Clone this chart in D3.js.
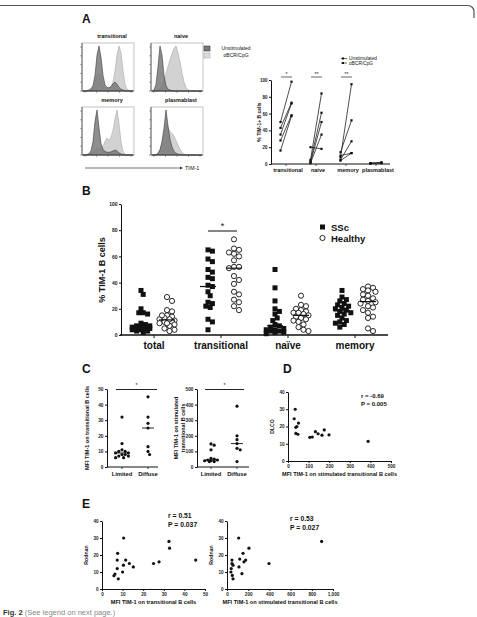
<!DOCTYPE html>
<html>
<head>
<meta charset="utf-8">
<script src="https://cdn.jsdelivr.net/npm/d3@7"></script>
<style>
  body { margin: 0; background: #fff; }
  svg { display: block; font-family: "Liberation Sans", Arial, sans-serif; }
</style>
</head>
<body>
<svg id="fig" width="477" height="617"></svg>
<script>
// ---- data ----
// A: TIM-1 histograms (26 bins along the log axis, % of peak)
const histCats = ["transitional", "naive", "memory", "plasmablast"];
const histUnstim = [
  [0,0,1,2,5,12,35,80,100,75,35,14,8,7,10,16,20,15,8,4,2,1,0,0,0,0],
  [0,2,15,55,100,80,35,12,4,2,1,0,0,0,0,0,0,0,0,0,0,0,0,0,0,0],
  [0,0,1,3,10,30,75,100,60,25,12,8,6,6,7,9,11,9,5,2,1,0,0,0,0,0],
  [0,0,1,4,12,30,60,100,65,35,18,8,4,2,1,0,0,0,0,0,0,0,0,0,0,0]
];
const histStim = [
  [0,0,0,1,3,8,18,35,40,30,14,7,5,6,10,20,45,80,100,85,45,15,4,1,0,0],
  [0,0,0,2,6,12,22,38,55,70,82,95,100,85,65,40,20,8,3,1,0,0,0,0,0,0],
  [0,0,0,1,3,6,12,16,14,14,20,30,38,32,40,55,80,100,70,30,8,2,0,0,0,0],
  [0,0,1,3,10,25,45,70,60,52,48,42,32,22,12,6,2,1,0,0,0,0,0,0,0,0]
];

// A right: % TIM-1+ B cells, unstimulated -> aBCR/CpG
const pairCats = ["transitional", "naive", "memory", "plasmablast"];
const pairUnstim = [[50,43,35,28,16],[20,5,3,2,1],[14,10,8,5,4],[1,1,0.5]];
const pairStim = [[98,73,72,58,57],[18,84,61,50,35],[52,13,95,27,13],[2,1.5,1]];
const pairSig = ["*", "**", "**", ""];

// B: % TIM-1 B cells
const tim1Cats = ["total", "transitional", "naïve", "memory"];
const tim1SSc = [
  [34,31,20,17,16,17,9,8,7,7,6,6,5,5,5,4,4,3,3,2],
  [65,64,58,56,50,48,44,43,38,37,33,30,25,24,22,21,12,10,4],
  [50,36,26,20,18,16,13,11,8,7,6,5,4,4,3,3,2,2,1],
  [34,29,27,26,24,23,22,21,20,19,18,17,16,15,13,11,10,9,8,6]
];
const tim1Healthy = [
  [29,26,19,18,15,14,13,12,11,10,10,9,8,7,5,4,3,12,9,15],
  [73,66,65,63,62,60,57,52,52,51,45,42,39,33,31,27,25,22,19],
  [30,23,22,20,19,18,17,16,15,14,13,12,11,10,8,6,4,3,17],
  [37,36,35,34,33,31,30,28,27,26,25,24,22,21,19,17,14,13,5,3]
];

// C: MFI TIM-1, limited vs diffuse
const mfiGroups = ["Limited", "Diffuse"];
const mfiTrans = [[32,15,11,10,10,9,9,8,8,7,7,6,6],[45,32,28,25,13,10,8]];
const mfiStim = [[148,140,110,55,50,45,45,40,40,35,35],[390,200,175,150,120,110,35]];

// D: DLCO vs MFI on stimulated transitional B cells
const dlcoMfi = [35,30,51,43,38,38,48,106,118,133,146,165,176,199,389];
const dlcoVal = [30,24.5,22,20,19.5,16,15.5,13.7,13.9,17,15.8,15,18,15.2,11.4];

// E: Rodnan vs MFI
const rodMfi = [10.5,7.6,7.4,7.4,6.3,5.8,7.9,10,10.4,11.5,13.3,15.2,25,27.7,32.5,32.8,45.5];
const rodVal = [30,21,17,12,8.8,7.8,6,10,14,17,15,13,15,16,28,24,17];
const rodStimMfi = [110,207,151,120,176,160,113,141,47,47,57,40,37,50,57,396,893];
const rodStimVal = [30,24,21,17.6,17,16,13,9,17,15,14,12,10,8,6,15,28];

const svg = d3.select("#fig");
const FONT = '"Liberation Sans", Arial, sans-serif';

svg.append("rect").attr("width", 477).attr("height", 617).attr("fill", "#fff");

// page frame at the top
svg.append("path")
  .attr("d", "M0,5.5 H468 A6,6 0 0 1 474,11.5 V18")
  .attr("fill", "none").attr("stroke", "#555").attr("stroke-width", 1.2);

function label(x, y, txt, size, opts) {
  opts = opts || {};
  return svg.append("text")
    .attr("x", x).attr("y", y)
    .attr("font-size", size)
    .attr("font-weight", opts.weight || "bold")
    .attr("font-family", FONT)
    .attr("fill", opts.fill || "#111")
    .attr("text-anchor", opts.anchor || "start")
    .attr("transform", opts.rotate ? "rotate(-90," + x + "," + y + ")" : null)
    .text(txt);
}

function styleAxis(g, size) {
  g.attr("font-family", FONT);
  g.selectAll("path.domain").attr("stroke", "#111").attr("stroke-width", 1);
  g.selectAll(".tick line").attr("stroke", "#111");
  g.selectAll(".tick text")
    .attr("font-size", size)
    .attr("font-weight", "bold")
    .attr("fill", "#222");
}

function leftAxis(x, scale, ticks, size) {
  var g = svg.append("g").attr("transform", "translate(" + x + ",0)")
    .call(d3.axisLeft(scale).tickValues(ticks).tickSize(2).tickSizeOuter(0).tickPadding(1.5));
  styleAxis(g, size);
  return g;
}

function bottomAxis(y, scale, ticks, size) {
  var g = svg.append("g").attr("transform", "translate(0," + y + ")")
    .call(d3.axisBottom(scale).tickValues(ticks).tickSize(2).tickSizeOuter(0).tickPadding(1.5));
  styleAxis(g, size);
  return g;
}

// spread points sideways so that close values do not pile up completely;
// offsets are capped, so dense groups overlap like in the original
function dodge(values, y, d, maxOff) {
  var placed = [];
  var order = values.map(function (v, i) { return i; })
    .sort(function (a, b) { return values[b] - values[a]; });
  var out = new Array(values.length);
  var steps = [0];
  for (var k = 1; k * d / 2 <= maxOff; k++) steps.push(k * d / 2, -k * d / 2);
  order.forEach(function (i) {
    var py = y(values[i]);
    var best = 0, bestDist = -1;
    steps.forEach(function (o) {
      var dist = d3.min(placed, function (p) { return Math.hypot(p[0] - o, p[1] - py); });
      if (dist === undefined) dist = Infinity;
      if (bestDist < d && dist > bestDist) { best = o; bestDist = dist; }
    });
    placed.push([best, py]);
    out[i] = { v: values[i], dx: best };
  });
  return out;
}

// ---------------- Panel A ----------------
label(82, 23, "A", 12);

function drawHistograms() {
  var w = 52, h = 48;
  histCats.forEach(function (c, i) {
    var bx = 82 + (i % 2) * 69;
    var by = 43 + Math.floor(i / 2) * 64;
    var x = d3.scaleLinear().domain([0, histStim[i].length - 1]).range([bx + 1, bx + w - 1]);
    var y = d3.scaleLinear().domain([0, 100]).range([by + h, by + 3]);
    var area = d3.area()
      .x(function (d, j) { return x(j); })
      .y0(by + h)
      .y1(function (d) { return y(d); });

    svg.append("rect")
      .attr("x", bx).attr("y", by).attr("width", w).attr("height", h)
      .attr("fill", "none").attr("stroke", "#9a9a9a").attr("stroke-width", 0.6);

    svg.append("path").datum(histStim[i]).attr("d", area)
      .attr("fill", "#d2d2d2").attr("stroke", "#a8a8a8").attr("stroke-width", 0.6);
    svg.append("path").datum(histUnstim[i]).attr("d", area)
      .attr("fill", "#7a7a7a").attr("fill-opacity", 0.85)
      .attr("stroke", "#3a3a3a").attr("stroke-width", 0.6);

    // frame axes with ticks
    svg.append("line").attr("x1", bx).attr("x2", bx).attr("y1", by).attr("y2", by + h)
      .attr("stroke", "#333").attr("stroke-width", 0.7);
    svg.append("line").attr("x1", bx).attr("x2", bx + w).attr("y1", by + h).attr("y2", by + h)
      .attr("stroke", "#333").attr("stroke-width", 0.7);
    d3.range(6).forEach(function (k) {
      var ty = by + h - k * (h - 4) / 5;
      svg.append("line").attr("x1", bx - 2).attr("x2", bx).attr("y1", ty).attr("y2", ty)
        .attr("stroke", "#555").attr("stroke-width", 0.5);
    });
    d3.range(5).forEach(function (k) {
      var tx = bx + 3 + k * (w - 6) / 4;
      svg.append("line").attr("x1", tx).attr("x2", tx).attr("y1", by + h).attr("y2", by + h + 2)
        .attr("stroke", "#555").attr("stroke-width", 0.5);
    });

    label(bx + w / 2 + 4, by - 5, c, 5.5, { anchor: "middle" });
  });

  // legend
  svg.append("rect").attr("x", 204).attr("y", 46).attr("width", 6).attr("height", 5)
    .attr("fill", "#7a7a7a").attr("stroke", "#333").attr("stroke-width", 0.6);
  svg.append("rect").attr("x", 204).attr("y", 53).attr("width", 6).attr("height", 5)
    .attr("fill", "#dcdcdc").attr("stroke", "#aaa").attr("stroke-width", 0.6);
  label(236, 50, "Unstimulated", 5, { anchor: "middle", weight: "normal" });
  label(236, 57, "αBCR/CpG", 5, { anchor: "middle", weight: "normal" });

  // TIM-1 arrow
  svg.append("line").attr("x1", 85).attr("x2", 180).attr("y1", 168).attr("y2", 168)
    .attr("stroke", "#333").attr("stroke-width", 0.7);
  svg.append("path").attr("d", "M180,166.5 L183,168 L180,169.5 Z").attr("fill", "#333");
  label(185, 170, "TIM-1", 5.5, { weight: "normal" });
}

function drawPairs() {
  var y = d3.scaleLinear().domain([0, 100]).range([164, 80]);
  var x = d3.scalePoint().domain(pairCats).range([286, 376]);

  leftAxis(271, y, [0, 20, 40, 60, 80, 100], 4.5);
  svg.append("line").attr("x1", 271).attr("x2", 390).attr("y1", 164).attr("y2", 164)
    .attr("stroke", "#111").attr("stroke-width", 1);

  pairCats.forEach(function (c, i) {
    var xu = x(c) - 5.5, xs = x(c) + 5.5;
    pairUnstim[i].forEach(function (u, j) {
      var s = pairStim[i][j];
      svg.append("line")
        .attr("x1", xu).attr("y1", y(u)).attr("x2", xs).attr("y2", y(s))
        .attr("stroke", "#222").attr("stroke-width", 0.8);
      [[xu, u], [xs, s]].forEach(function (p) {
        svg.append("rect").attr("x", p[0] - 1.1).attr("y", y(p[1]) - 1.1)
          .attr("width", 2.2).attr("height", 2.2).attr("fill", "#111");
      });
    });
    svg.append("line").attr("x1", x(c)).attr("x2", x(c)).attr("y1", 164).attr("y2", 166)
      .attr("stroke", "#111").attr("stroke-width", 0.7);
    label(x(c) + 2, 172, c, 5.5, { anchor: "middle" });
    if (pairSig[i]) {
      svg.append("line").attr("x1", x(c) - 5).attr("x2", x(c) + 6).attr("y1", 77).attr("y2", 77)
        .attr("stroke", "#222").attr("stroke-width", 0.7);
      label(x(c) + 0.5, 76, pairSig[i], 5, { anchor: "middle", weight: "normal" });
    }
  });

  label(261, 122, "% TIM-1+ B cells", 5, { anchor: "middle", rotate: true });

  // legend
  [["Unstimulated", 60], ["αBCR/CpG", 64.5]].forEach(function (d) {
    svg.append("line").attr("x1", 341).attr("x2", 347).attr("y1", d[1] - 1.5).attr("y2", d[1] - 1.5)
      .attr("stroke", "#222").attr("stroke-width", 0.7);
    svg.append("rect").attr("x", 342).attr("y", d[1] - 2.5).attr("width", 2).attr("height", 2)
      .attr("fill", "#111");
    label(349, d[1], d[0], 4.8, { weight: "normal" });
  });
}

drawHistograms();
drawPairs();

// ---------------- Panel B ----------------
label(82, 195, "B", 12);

function drawTim1() {
  var y = d3.scaleLinear().domain([0, 100]).range([335, 204]);
  var x = d3.scalePoint().domain(tim1Cats).range([154, 355]);
  var gap = 13;

  leftAxis(121, y, [0, 20, 40, 60, 80, 100], 5);
  svg.append("line").attr("x1", 120).attr("x2", 388).attr("y1", 335).attr("y2", 335)
    .attr("stroke", "#111").attr("stroke-width", 1.5);

  tim1Cats.forEach(function (c, i) {
    svg.append("line").attr("x1", x(c)).attr("x2", x(c)).attr("y1", 335).attr("y2", 338)
      .attr("stroke", "#111").attr("stroke-width", 1);
    label(x(c), 349, c, 10, { anchor: "middle" });

    var cxS = x(c) - gap, cxH = x(c) + gap;
    svg.selectAll(null).data(dodge(tim1SSc[i], y, 4.4, 9)).enter().append("rect")
      .attr("x", function (d) { return cxS + d.dx - 2.5; })
      .attr("y", function (d) { return y(d.v) - 2.5; })
      .attr("width", 5).attr("height", 5).attr("fill", "#111");
    svg.selectAll(null).data(dodge(tim1Healthy[i], y, 5, 9)).enter().append("circle")
      .attr("cx", function (d) { return cxH + d.dx; })
      .attr("cy", function (d) { return y(d.v); })
      .attr("r", 2.6).attr("fill", "#fff").attr("stroke", "#111").attr("stroke-width", 0.9);

    [[cxS, tim1SSc[i]], [cxH, tim1Healthy[i]]].forEach(function (g) {
      var m = d3.median(g[1]);
      svg.append("line").attr("x1", g[0] - 8).attr("x2", g[0] + 8)
        .attr("y1", y(m)).attr("y2", y(m))
        .attr("stroke", "#111").attr("stroke-width", 1.2);
    });
  });

  var xt = x("transitional");
  svg.append("line").attr("x1", xt - 13).attr("x2", xt + 16).attr("y1", 231).attr("y2", 231)
    .attr("stroke", "#222").attr("stroke-width", 1.1);
  label(xt + 1.5, 229, "*", 9, { anchor: "middle", weight: "normal" });

  label(105, 270, "% TIM-1  B cells", 9, { anchor: "middle", rotate: true });

  // legend
  svg.append("rect").attr("x", 320).attr("y", 224.5).attr("width", 5).attr("height", 5).attr("fill", "#111");
  label(331, 230.5, "SSc", 9.5);
  svg.append("circle").attr("cx", 322.5).attr("cy", 238).attr("r", 2.6)
    .attr("fill", "#fff").attr("stroke", "#111").attr("stroke-width", 0.9);
  label(331, 241.5, "Healthy", 9.5);
}

drawTim1();

// ---------------- Panel C ----------------
label(82, 373, "C", 12);

function drawGroupPlot(vals, yMax, yTicks, ax, xr, xEnd, sig) {
  var y = d3.scaleLinear().domain([0, yMax]).range([467, 389]);
  var x = d3.scalePoint().domain(mfiGroups).range(xr);

  leftAxis(ax, y, yTicks, 4.8);
  svg.append("line").attr("x1", ax).attr("x2", xEnd).attr("y1", 467).attr("y2", 467)
    .attr("stroke", "#111").attr("stroke-width", 1);

  mfiGroups.forEach(function (g, i) {
    svg.append("line").attr("x1", x(g)).attr("x2", x(g)).attr("y1", 467).attr("y2", 469)
      .attr("stroke", "#111").attr("stroke-width", 0.8);
    label(x(g), 476, g, 5.8, { anchor: "middle" });
    svg.selectAll(null).data(dodge(vals[i], y, 3.2, 7)).enter().append("circle")
      .attr("cx", function (d) { return x(g) + d.dx; })
      .attr("cy", function (d) { return y(d.v); })
      .attr("r", 1.6).attr("fill", "#111");
    var m = d3.median(vals[i]);
    svg.append("line").attr("x1", x(g) - 6).attr("x2", x(g) + 6)
      .attr("y1", y(m)).attr("y2", y(m)).attr("stroke", "#111").attr("stroke-width", 0.9);
  });

  svg.append("line").attr("x1", sig[0]).attr("x2", sig[1]).attr("y1", 389.5).attr("y2", 389.5)
    .attr("stroke", "#222").attr("stroke-width", 1.2);
  label((sig[0] + sig[1]) / 2, 387, "*", 5.5, { anchor: "middle", weight: "normal" });
}

drawGroupPlot(mfiTrans, 50, [0, 10, 20, 30, 40, 50], 107, [122, 148], 158, [116, 157]);
label(89, 428, "MFI TIM-1 on transitional B cells", 5.5, { anchor: "middle", rotate: true });
drawGroupPlot(mfiStim, 500, [0, 100, 200, 300, 400, 500], 197, [211, 237], 249, [205, 244]);
label(178, 428, "MFI TIM-1 on stimulated", 5.5, { anchor: "middle", rotate: true });
label(185, 428, "transitional B cells", 5.5, { anchor: "middle", rotate: true });

// ---------------- Panel D / E scatter plots ----------------
function drawScatter(xs, ys, xDom, xRange, yRange, xTicks, yTicks, xTitle, yTitle, stats, statX, statY, statSize) {
  var x = d3.scaleLinear().domain(xDom).range(xRange);
  var y = d3.scaleLinear().domain([0, 40]).range(yRange);

  leftAxis(xRange[0], y, yTicks, 4.6);
  bottomAxis(yRange[0], x, xTicks, 4.6);

  svg.selectAll(null).data(xs).enter().append("circle")
    .attr("cx", function (d) { return x(d); })
    .attr("cy", function (d, i) { return y(ys[i]); })
    .attr("r", 1.6).attr("fill", "#111");

  label((xRange[0] + xRange[1]) / 2, yRange[0] + 15, xTitle, 5.6, { anchor: "middle" });
  label(xRange[0] - 14, (yRange[0] + yRange[1]) / 2, yTitle, 5.2, { anchor: "middle", rotate: true });
  label(statX, statY, stats[0], statSize);
  label(statX, statY + statSize * 1.25, stats[1], statSize);
}

label(283, 373, "D", 12);
drawScatter(dlcoMfi, dlcoVal, [0, 500], [288, 391], [461, 392],
  [0, 100, 200, 300, 400, 500], [0, 10, 20, 30, 40],
  "MFI TIM-1 on stimulated transitional B cells", "DLCO",
  ["r = -0.69", "P = 0.005"], 361, 398, 6);

label(82, 508, "E", 12);
drawScatter(rodMfi, rodVal, [0, 50], [102, 205], [589, 521],
  [0, 10, 20, 30, 40, 50], [0, 10, 20, 30, 40],
  "MFI TIM-1 on transitional B cells", "Rodnan",
  ["r = 0.51", "P = 0.037"], 168, 518, 6.8);
drawScatter(rodStimMfi, rodStimVal, [0, 1000], [227, 333], [589, 521],
  [0, 200, 400, 600, 800, 1000], [0, 10, 20, 30, 40],
  "MFI TIM-1 on stimulated transitional B cells", "Rodnan",
  ["r = 0.53", "P = 0.027"], 290, 521, 6.8);

// ---------------- caption ----------------
var cap = svg.append("text").attr("x", 3).attr("y", 614.5)
  .attr("font-size", 7.5).attr("font-family", FONT).attr("fill", "#333");
cap.append("tspan").attr("font-weight", "bold").text("Fig. 2");
cap.append("tspan").attr("fill", "#888").text(" (See legend on next page.)");
</script>
</body>
</html>
